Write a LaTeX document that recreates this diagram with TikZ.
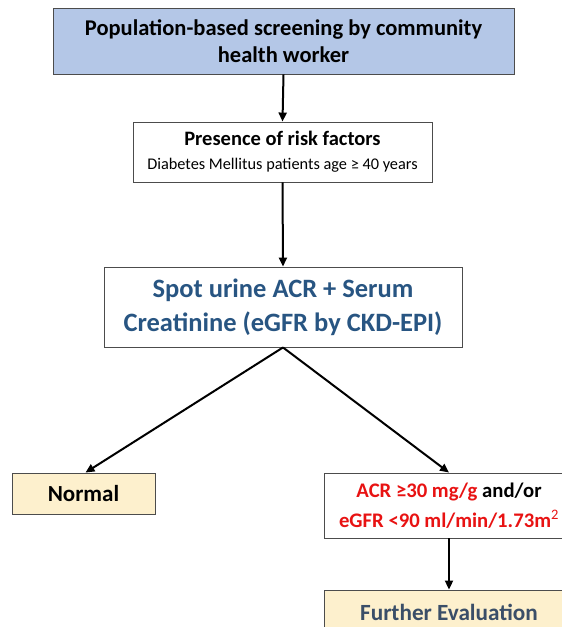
\documentclass[tikz,border=0pt]{standalone}
\usepackage{fontspec}
\setmainfont{Carlito}
\usetikzlibrary{arrows.meta}
\definecolor{topblue}{RGB}{180,199,231}
\definecolor{paleyellow}{RGB}{253,240,205}
\definecolor{titleblue}{RGB}{40,85,130}
\definecolor{slateblue}{RGB}{58,78,104}
\definecolor{alertred}{RGB}{232,18,18}
\tikzset{
  box/.style={draw=black!70, line width=0.9pt, align=center, inner sep=0pt, font=\bfseries},
  arr/.style={-{Triangle[length=9pt,width=8pt]}, line width=2pt}
}
\begin{document}
\begin{tikzpicture}[x=1pt,y=-1pt]
\useasboundingbox (0,0) rectangle (562,627);
% boxes
\node[box,fill=topblue,minimum width=461pt,minimum height=66pt,font=\bfseries\fontsize{22.5}{27}\selectfont] (screen) at (283.5,41)
  {Population-based screening by community\\health worker};
\node[box,fill=white,minimum width=299pt,minimum height=60pt,font=\bfseries\fontsize{20.5}{24}\selectfont] (risk) at (282.5,152)
  {Presence of risk factors\\{\mdseries\fontsize{16.3}{24}\selectfont Diabetes Mellitus patients age ≥ 40 years}};
\node[box,fill=white,minimum width=358pt,minimum height=80pt,text=titleblue,font=\bfseries\fontsize{26.5}{34}\selectfont] (spot) at (283,307)
  {Spot urine ACR + Serum\\Creatinine (eGFR by CKD-EPI)};
\node[box,fill=paleyellow,minimum width=143pt,minimum height=41pt,font=\bfseries\fontsize{23}{26}\selectfont] (normal) at (83.5,493.5) {Normal};
\node[box,fill=white,minimum width=250pt,minimum height=65pt,font=\bfseries\fontsize{20.7}{30}\selectfont] (acr) at (449,505.5)
  {\textcolor{alertred}{ACR ≥30 mg/g} and/or\\\textcolor{alertred}{eGFR <90 ml/min/1.73m\textsuperscript{\mdseries 2}}};
\node[box,fill=paleyellow,minimum width=250pt,minimum height=44pt,text=slateblue,font=\bfseries\fontsize{23.2}{26}\selectfont] (further) at (449,612) {Further Evaluation};
% connectors
\draw[arr] (screen.south) -- (risk.north);
\draw[arr] (risk.south) -- (spot.north);
\draw[arr] (spot.south) -- ([xshift=2pt]normal.north);
\draw[arr] (spot.south) -- (acr.north);
\draw[arr] (acr.south) -- (further.north);
\end{tikzpicture}
\end{document}
